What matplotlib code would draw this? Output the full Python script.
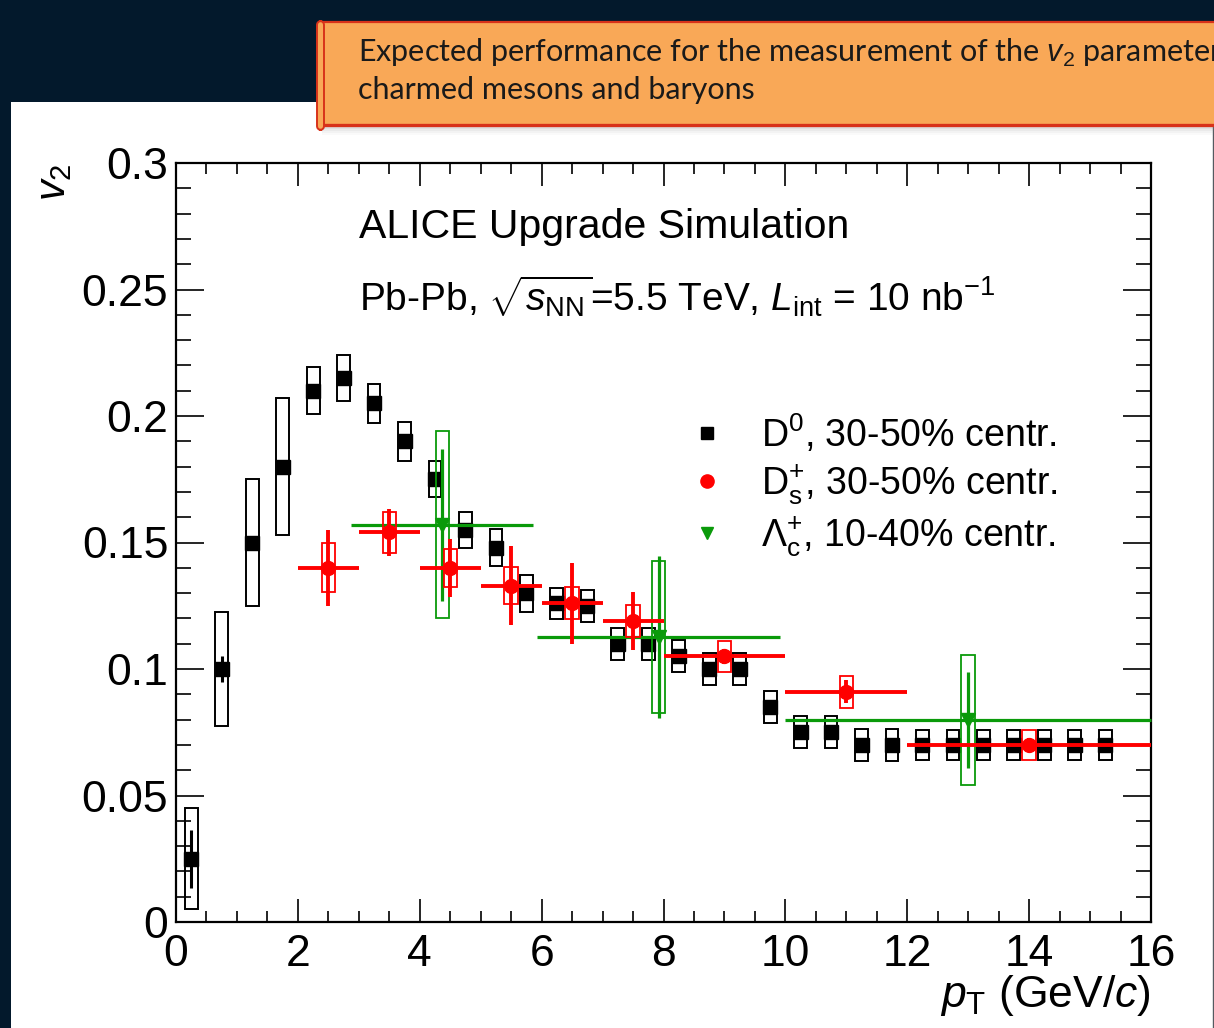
import numpy as np
import matplotlib.pyplot as plt
from matplotlib.patches import Rectangle, FancyBboxPatch
from matplotlib.lines import Line2D
from matplotlib.ticker import MultipleLocator, FixedLocator, FixedFormatter

plt.rcParams['font.family'] = ['Liberation Sans', 'DejaVu Sans']
plt.rcParams['mathtext.fontset'] = 'custom'
plt.rcParams['mathtext.rm'] = 'Liberation Sans'
plt.rcParams['mathtext.it'] = 'Liberation Sans:italic'
plt.rcParams['mathtext.bf'] = 'Liberation Sans:bold'

# ------------------------------------------------------------------
# dati
# ------------------------------------------------------------------
# D0, 30-50% centr.
d0_pt = [0.25, 0.75, 1.25, 1.75, 2.25, 2.75, 3.25, 3.75, 4.25, 4.75, 5.25,
         5.75, 6.25, 6.75, 7.25, 7.75, 8.25, 8.75, 9.25, 9.75, 10.25, 10.75,
         11.25, 11.75, 12.25, 12.75, 13.25, 13.75, 14.25, 14.75, 15.25]
d0_v2 = [0.025, 0.100, 0.150, 0.180, 0.210, 0.215, 0.205, 0.190, 0.175, 0.155,
         0.148, 0.130, 0.126, 0.125, 0.110, 0.110, 0.105, 0.100, 0.100, 0.085,
         0.075, 0.075, 0.070, 0.070, 0.070, 0.070, 0.070, 0.070, 0.070, 0.070,
         0.070]
d0_stat = [0.0115, 0.005, 0.002, 0.002, 0.002, 0.002, 0.002, 0.002, 0.002,
           0.002, 0.002, 0.002, 0.002, 0.002, 0.002, 0.002, 0.002, 0.002,
           0.002, 0.002, 0.002, 0.002, 0.002, 0.002, 0.002, 0.002, 0.002,
           0.002, 0.002, 0.002, 0.002]
d0_sys = [0.020, 0.0225, 0.025, 0.027, 0.0093, 0.009, 0.0077, 0.0077, 0.0072,
          0.0072, 0.0073, 0.0073, 0.0062, 0.0063, 0.0064, 0.0064, 0.0063,
          0.0063, 0.0063, 0.0065, 0.0063, 0.0063, 0.0063, 0.0063, 0.006,
          0.006, 0.006, 0.006, 0.006, 0.006, 0.006]

# Ds+, 30-50% centr.
ds_pt = [2.5, 3.5, 4.5, 5.5, 6.5, 7.5, 9.0, 11.0, 14.0]
ds_xerr = [0.5, 0.5, 0.5, 0.5, 0.5, 0.5, 1.0, 1.0, 2.0]
ds_v2 = [0.140, 0.154, 0.140, 0.133, 0.126, 0.119, 0.105, 0.091, 0.070]
ds_stat = [0.015, 0.0093, 0.0115, 0.0157, 0.016, 0.0115, 0.003, 0.0046, 0.0026]
ds_sys = [0.0097, 0.008, 0.0075, 0.0073, 0.0063, 0.0063, 0.006, 0.0064, 0.006]

# Lambda_c+, 10-40% centr.
lc_pt = [4.37, 7.92, 13.0]
lc_lo = [2.87, 5.92, 10.0]
lc_hi = [5.86, 9.91, 16.0]
lc_v2 = [0.157, 0.1125, 0.080]
lc_stat = [0.030, 0.032, 0.019]
lc_sys = [0.037, 0.030, 0.0257]

x_ticks = [0, 2, 4, 6, 8, 10, 12, 14, 16]
y_ticks = [0, 0.05, 0.1, 0.15, 0.2, 0.25, 0.3]
y_ticklabels = ['0', '0.05', '0.1', '0.15', '0.2', '0.25', '0.3']

# ------------------------------------------------------------------
W, H = 1214, 1028
fig = plt.figure(figsize=(W / 100, H / 100), dpi=100, facecolor='#03192c')


def fx(px):
    return px / W


def fy(py):
    return 1 - py / H


# pannello bianco
fig.add_artist(Rectangle((fx(11), 0), 1 - fx(11), fy(102), transform=fig.transFigure,
                         facecolor='white', edgecolor='none', zorder=0))
fig.add_artist(Line2D([fx(1212.5), fx(1212.5)], [0, fy(125)], transform=fig.transFigure,
                      color='#555a60', lw=1.0, zorder=1))

# riquadro arancione
for i, a in enumerate([0.35, 0.25, 0.16, 0.09, 0.04]):
    fig.add_artist(Rectangle((fx(322), fy(127 + 2 * i)), 1, 2 / H, transform=fig.transFigure,
                             facecolor='#808080', alpha=a, edgecolor='none', zorder=2))
fig.add_artist(Rectangle((fx(321), fy(125)), 1, (125 - 22) / H, transform=fig.transFigure,
                         facecolor='#f9a857', edgecolor='none', zorder=3))
fig.add_artist(Line2D([fx(321), 1], [fy(22), fy(22)], transform=fig.transFigure,
                      color='#d8321a', lw=1.6, zorder=4))
fig.add_artist(Line2D([fx(321), 1], [fy(124.5), fy(124.5)], transform=fig.transFigure,
                      color='#d8321a', lw=2.4, zorder=4))
fig.add_artist(FancyBboxPatch((fx(317), fy(130)), fx(7), (130 - 21) / H,
                              boxstyle='round,pad=0,rounding_size=0.004',
                              transform=fig.transFigure, facecolor='#f9a857',
                              edgecolor='#d8321a', lw=1.4, zorder=5))
fig.text(fx(358), fy(53), r'Expected performance for the measurement of the $v_{2}$ parameter for',
         fontfamily='Lato', fontsize=22, va='center', ha='left', color='#1a1a1a', zorder=6)
fig.text(fx(358), fy(90), 'charmed mesons and baryons',
         fontfamily='Lato', fontsize=22, va='center', ha='left', color='#1a1a1a', zorder=6)

# ------------------------------------------------------------------
ax = fig.add_axes([fx(176), fy(922), fx(1151) - fx(176), fy(163) - fy(922)])
ax.set_facecolor('white')
ax.set_xlim(0, 16)
ax.set_ylim(0, 0.3)


def draw_sys(x, y, sys, half_w, color, lw, z):
    for xi, yi, si in zip(x, y, sys):
        ax.add_patch(Rectangle((xi - half_w, yi - si), 2 * half_w, 2 * si, fill=False,
                               edgecolor=color, lw=lw, zorder=z))


# D0
draw_sys(d0_pt, d0_v2, d0_sys, 0.105, 'black', 1.4, 3)
ax.errorbar(d0_pt, d0_v2, yerr=d0_stat, fmt='s', color='black', ms=9.5,
            elinewidth=2.2, capsize=0, zorder=3.5)

# Lambda_c
lc_pt_a = np.array(lc_pt)
lc_xerr = [lc_pt_a - np.array(lc_lo), np.array(lc_hi) - lc_pt_a]
draw_sys(lc_pt, lc_v2, lc_sys, 0.11, '#0a9a0a', 1.3, 4)
ax.errorbar(lc_pt, lc_v2, xerr=lc_xerr, yerr=lc_stat, fmt='v', color='#0a9a0a', ms=10,
            elinewidth=2.3, capsize=0, zorder=4.5, clip_on=False)

# Ds
draw_sys(ds_pt, ds_v2, ds_sys, 0.11, '#ff0000', 1.3, 5)
ax.errorbar(ds_pt, ds_v2, xerr=ds_xerr, yerr=ds_stat, fmt='o', color='#ff0000', ms=10,
            elinewidth=2.8, capsize=0, zorder=5.5)

# assi stile ROOT
ax.xaxis.set_major_locator(FixedLocator(x_ticks))
ax.xaxis.set_minor_locator(MultipleLocator(0.5))
ax.yaxis.set_major_locator(FixedLocator(y_ticks))
ax.yaxis.set_major_formatter(FixedFormatter(y_ticklabels))
ax.yaxis.set_minor_locator(MultipleLocator(0.01))
ax.tick_params(axis='both', which='both', direction='in', top=True, right=True,
               width=1.2, color='black')
ax.tick_params(axis='x', which='major', length=16.5, pad=9, labelsize=32)
ax.tick_params(axis='x', which='minor', length=8)
ax.tick_params(axis='y', which='major', length=20.5, pad=5.5, labelsize=32)
ax.tick_params(axis='y', which='minor', length=10.5)
for s in ax.spines.values():
    s.set_linewidth(1.6)

ax.set_xlabel(r'$p_{\rm T}$ (GeV/$c$)', fontsize=32, loc='right')
ax.xaxis.set_label_coords(1.0, -0.067)
ax.set_ylabel(r'$v_{2}$', fontsize=30, loc='top')
ax.yaxis.set_label_coords(-0.105, 1.0)

ax.text(0.188, 0.916, 'ALICE Upgrade Simulation', transform=ax.transAxes,
        fontsize=29.5, va='center', ha='left')
ax.text(0.188, 0.823, r'Pb-Pb, $\sqrt{s_{\rm NN}}$=5.5 TeV, $L_{\rm int}$ = 10 nb$^{-1}$',
        transform=ax.transAxes, fontsize=28, va='center', ha='left')

handles = [Line2D([], [], marker='s', color='black', ls='none', ms=9),
           Line2D([], [], marker='o', color='#ff0000', ls='none', ms=9.5),
           Line2D([], [], marker='v', color='#0a9a0a', ls='none', ms=8.5)]
labels = [r'D$^{0}$, 30-50% centr.', r'D$_{\rm s}^{+}$, 30-50% centr.',
          r'$\Lambda_{\rm c}^{+}$, 10-40% centr.']
ax.legend(handles, labels, loc='upper left', bbox_to_anchor=(0.533, 0.672), frameon=False,
          fontsize=27, handlelength=0.6, handletextpad=1.15, labelspacing=0.2,
          borderpad=0, borderaxespad=0)

fig.savefig('out.png', dpi=100, facecolor=fig.get_facecolor())
